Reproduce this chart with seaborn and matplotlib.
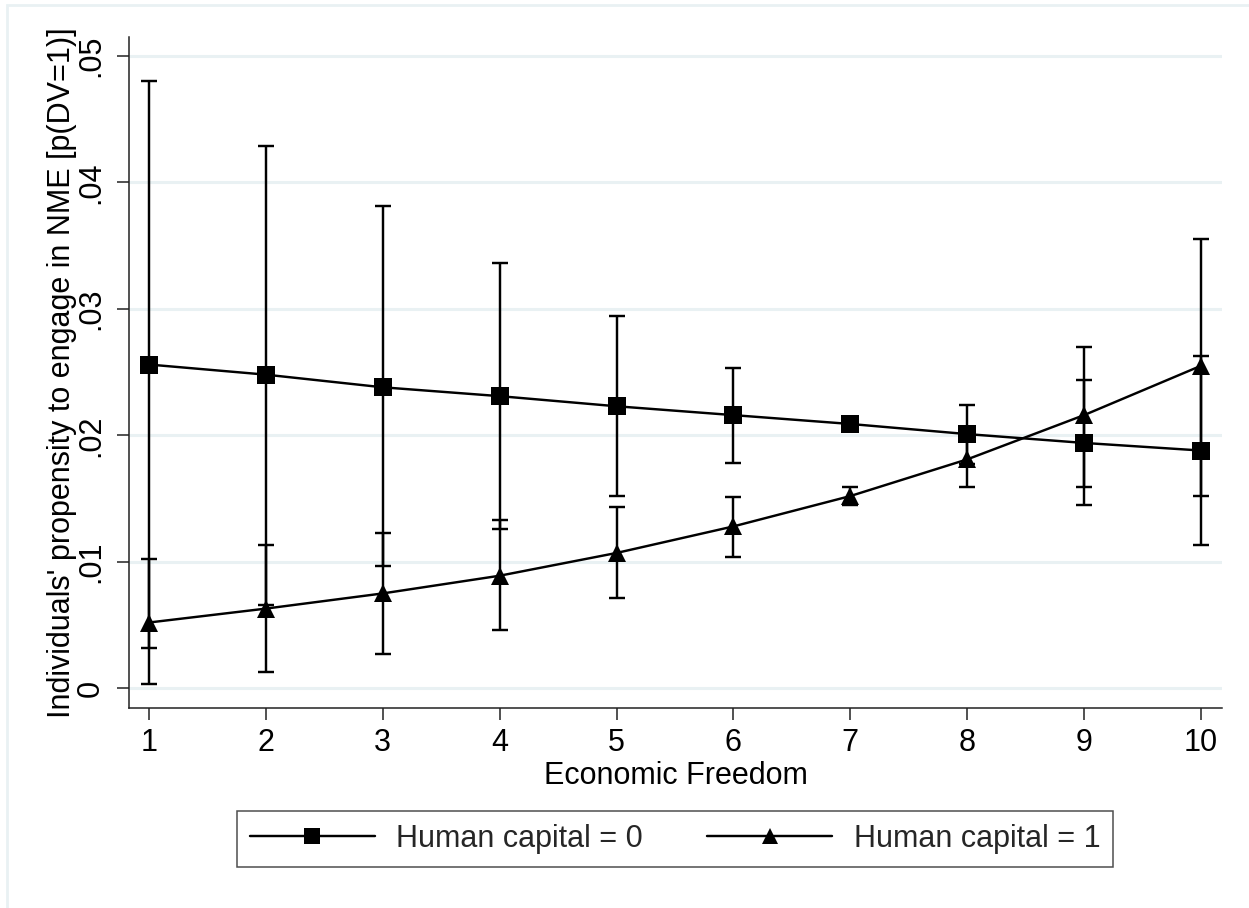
import matplotlib
matplotlib.use("Agg")
import matplotlib.pyplot as plt
from matplotlib.patches import Rectangle
from matplotlib.lines import Line2D
import numpy as np
import pandas as pd
import seaborn as sns

# Predicted probabilities with 95% confidence bounds
freedom = [1, 2, 3, 4, 5, 6, 7, 8, 9, 10]
hc0_mean = [0.0256, 0.0248, 0.0238, 0.0231, 0.0223, 0.0216, 0.0209, 0.0201, 0.0194, 0.0188]
hc0_low = [0.0032, 0.0066, 0.0097, 0.0126, 0.0152, 0.0178, 0.0205, 0.0177, 0.0145, 0.0113]
hc0_high = [0.0480, 0.0429, 0.0381, 0.0336, 0.0294, 0.0253, 0.0213, 0.0224, 0.0244, 0.0263]
hc1_mean = [0.0052, 0.0063, 0.0075, 0.0089, 0.0107, 0.0128, 0.0152, 0.0181, 0.0216, 0.0255]
hc1_low = [0.0003, 0.0013, 0.0027, 0.0046, 0.0071, 0.0104, 0.0145, 0.0159, 0.0159, 0.0152]
hc1_high = [0.0102, 0.0113, 0.0123, 0.0133, 0.0143, 0.0151, 0.0159, 0.0204, 0.0270, 0.0355]
group_labels = ["Human capital = 0", "Human capital = 1"]
y_ticks = [0, 0.01, 0.02, 0.03, 0.04, 0.05]
y_tick_labels = ["0", ".01", ".02", ".03", ".04", ".05"]

df = pd.DataFrame({
    "freedom": freedom * 2,
    "prob": hc0_mean + hc1_mean,
    "low": hc0_low + hc1_low,
    "high": hc0_high + hc1_high,
    "group": [group_labels[0]] * len(freedom) + [group_labels[1]] * len(freedom),
})

sns.set_theme(style="white")
plt.rcParams["font.family"] = ["Liberation Sans", "DejaVu Sans"]

W, H = 1249, 908
fig = plt.figure(figsize=(W / 100, H / 100), dpi=100)
ax = fig.add_axes([129 / W, 1 - 708 / H, (1222 - 129) / W, (708 - 37) / H])

grid_col = "#E9F1F3"
ink = "black"
lw = 1.75
fs = 22

# Confidence interval caps
for g in group_labels:
    sub = df[df["group"] == g]
    ax.errorbar(sub["freedom"], sub["prob"],
                yerr=[sub["prob"] - sub["low"], sub["high"] - sub["prob"]],
                fmt="none", ecolor=ink, elinewidth=lw, capsize=5.6, capthick=lw,
                zorder=3)

# Connected point estimates
sns.lineplot(data=df, x="freedom", y="prob", hue="group", style="group",
             markers={group_labels[0]: "s", group_labels[1]: "^"},
             dashes=False, palette={group_labels[0]: ink, group_labels[1]: ink},
             markersize=13, markeredgewidth=0, linewidth=lw, ax=ax,
             legend=False, zorder=4, errorbar=None)

ax.set_xlim(0.829, 10.18)
ax.set_ylim(-0.00156, 0.0515)
ax.set_xticks(freedom)
ax.set_xticklabels([str(v) for v in freedom])
ax.set_yticks(y_ticks)
ax.set_yticklabels(y_tick_labels)

for y in y_ticks:
    ax.axhline(y, color=grid_col, lw=2.2, zorder=0)

for side in ["top", "right"]:
    ax.spines[side].set_visible(False)
for side in ["left", "bottom"]:
    ax.spines[side].set_color("#222222")
    ax.spines[side].set_linewidth(1.1)

ax.tick_params(axis="both", which="major", length=8.6, width=1.1,
               color="#222222", labelsize=fs, labelcolor=ink,
               direction="out", left=True, bottom=True)
ax.tick_params(axis="x", pad=6)
ax.tick_params(axis="y", pad=8)
for lab in ax.get_yticklabels():
    lab.set_rotation(90)
    lab.set_va("center")
    lab.set_ha("right")

ax.set_xlabel("Economic Freedom", fontsize=fs, color=ink, labelpad=2)
ax.set_ylabel("Individuals' propensity to engage in NME [p(DV=1)]",
              fontsize=fs, color=ink)
ax.yaxis.set_label_coords(-0.048, 0.5)

handles = [
    Line2D([], [], color=ink, lw=lw, marker="s", markersize=11, markeredgewidth=0),
    Line2D([], [], color=ink, lw=lw, marker="^", markersize=11.5, markeredgewidth=0),
]
leg = fig.legend(handles, group_labels, loc="center", ncol=2,
                 bbox_to_anchor=(675 / W, 1 - 839 / H), fontsize=fs,
                 frameon=True, fancybox=False, handlelength=4.1,
                 handletextpad=0.7, columnspacing=2.1, borderpad=0.42,
                 borderaxespad=0)
leg.get_frame().set_edgecolor("#222222")
leg.get_frame().set_linewidth(1.1)

# Light outer graph-region border
fig.patches.append(Rectangle((7 / W, -0.1), 1.2, 1 - 5 / H + 0.1,
                             transform=fig.transFigure, fill=False,
                             edgecolor=grid_col, lw=2.0, zorder=0))

fig.savefig("out.png", dpi=100, facecolor="white")
